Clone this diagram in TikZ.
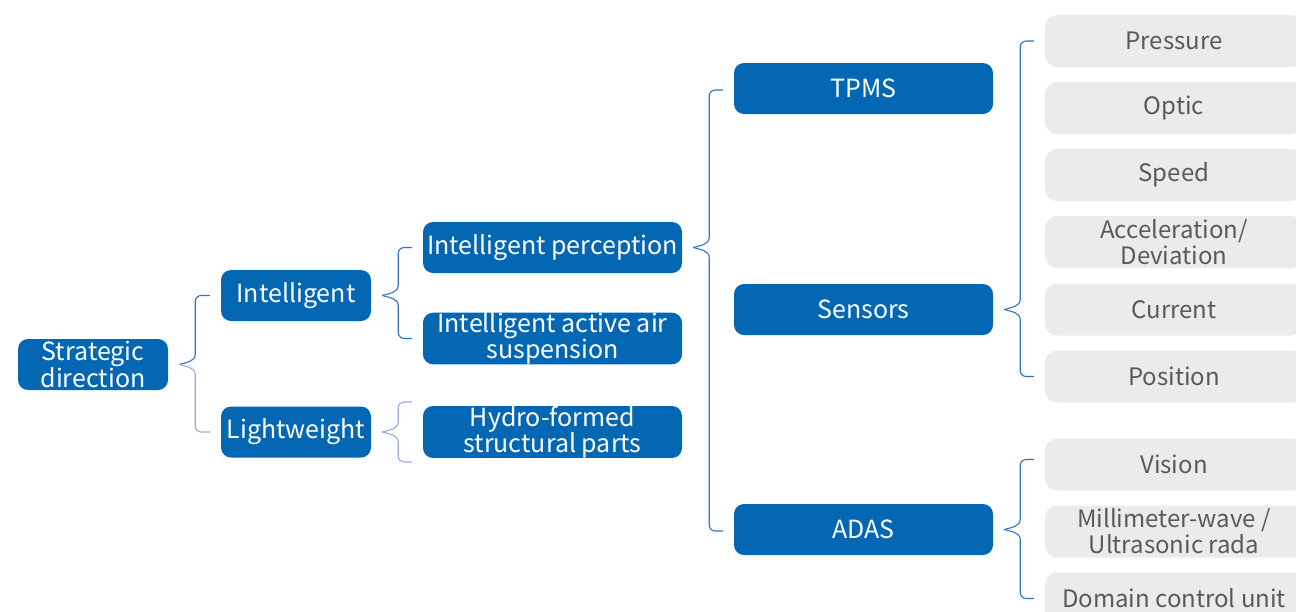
\documentclass[tikz,border=0pt]{standalone}
\usepackage{fontspec}
\setmainfont{Noto Sans CJK SC}
\usetikzlibrary{calc}

\definecolor{mainblue}{HTML}{0467B3}
\definecolor{leafgray}{HTML}{EBEBED}
\definecolor{leaftext}{HTML}{5A5A5A}
\definecolor{bracedark}{HTML}{2F72BE}
\definecolor{bracelight}{HTML}{93AEDA}

\tikzset{
  topic/.style={fill=mainblue, text=white, rounded corners=10pt, inner sep=0pt,
    minimum height=51pt, align=center, font=\fontsize{25}{26}\selectfont},
  narrow/.style={topic, minimum width=150pt},
  wide/.style={topic, minimum width=259pt},
  leaf/.style={fill=leafgray, text=leaftext, rounded corners=12pt, inner sep=0pt,
    minimum width=258pt, minimum height=52pt, align=center, font=\fontsize{24}{26}\selectfont},
  brace/.style={line width=1.1pt}
}

% half of a curly bracket, from parent to one child
\newcommand\link[4][bracedark]{%
  \draw[brace, draw=#1] let \p1=([xshift=11pt]#2.east), \p2=([xshift=-11pt,yshift=#4]#3.west),
    \n1={sign(\y2-\y1)} in
    (\p1) .. controls (\x1+7pt,\y1+2pt*\n1) and (\x1+16pt,\y1+3pt*\n1) .. (\x1+16pt,\y1+10pt*\n1)
    [rounded corners=6pt] -- (\x1+16pt,\y2) -- (\p2);
}

\begin{document}
\begin{tikzpicture}[x=1pt, y=1pt]

  \useasboundingbox (0,0) rectangle (1296,-611);

  \node[narrow] (strat) at (93,-364.5) {Strategic\\direction};
  \node[narrow] (intel) at (296,-295.5) {Intelligent};
  \node[narrow] (light) at (296,-432) {Lightweight};

  \node[wide] (percep) at (552.5,-247.5) {Intelligent perception};
  \node[wide] (activ) at (552.5,-338.5) {Intelligent active air\\suspension};
  \node[wide] (hydro) at (552.5,-432) {Hydro-formed\\structural parts};

  \node[wide] (tpms) at (863.5,-88.5) {TPMS};
  \node[wide] (sens) at (863.5,-309.5) {Sensors};
  \node[wide] (adas) at (863.5,-529.5) {ADAS};

  % leaves
  \foreach \name/\y/\txt in {press/41/Pressure, optic/108/Optic, speed/175/Speed,
      accel/242/{Acceleration/\\Deviation}, curr/309.5/Current, posit/376.5/Position,
      vision/464.5/Vision, radar/531.5/{Millimeter-wave /\\Ultrasonic rada},
      domain/598.5/Domain control unit}
    \node[leaf] (\name) at (1174,-\y) {\txt};

  % brackets
  \link{strat}{intel}{0pt}
  \link[bracelight]{strat}{light}{0pt}
  \link{intel}{percep}{0pt}
  \link{intel}{activ}{0pt}
  \link[bracelight]{light}{hydro}{30pt}
  \link[bracelight]{light}{hydro}{-30pt}
  \link{percep}{tpms}{-1.5pt}
  \link{percep}{adas}{-1.5pt}
  \link{sens}{press}{0pt}
  \link{sens}{posit}{0pt}
  \link{adas}{vision}{5pt}
  \link{adas}{domain}{0pt}

\end{tikzpicture}
\end{document}
